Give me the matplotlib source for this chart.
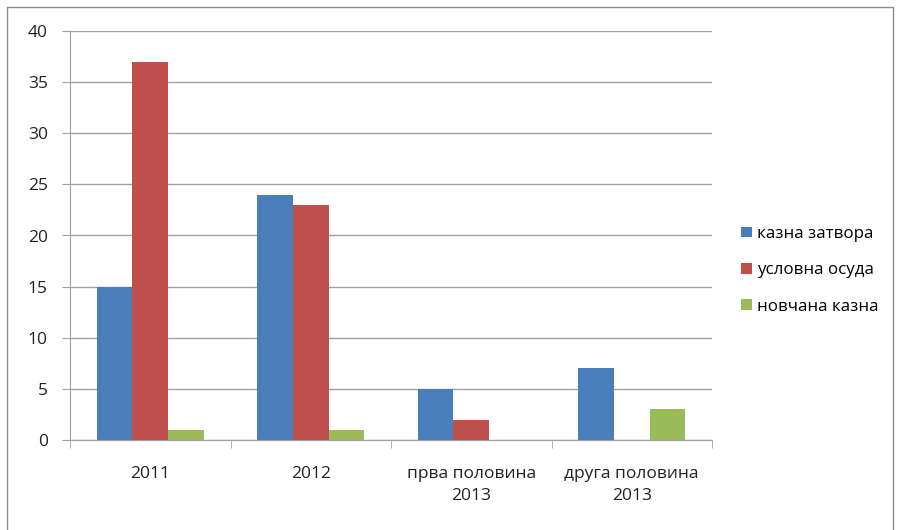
import numpy as np
import matplotlib.pyplot as plt
from matplotlib.patches import Rectangle

# Категорије и вредности по серијама
categories = ['2011', '2012', 'прва половина\n2013', 'друга половина\n2013']
series_names = ['казна затвора', 'условна осуда', 'новчана казна']
kazna_zatvora = [15, 24, 5, 7]
uslovna_osuda = [37, 23, 2, 0]
novcana_kazna = [1, 1, 0, 3]
colors = ['#4a7ebb', '#c0504d', '#9bbb59']

plt.rcParams['font.family'] = ['Open Sans', 'DejaVu Sans']

fig = plt.figure(figsize=(8.98, 5.30), dpi=100)
ax = fig.add_axes([70 / 898, 1 - 440 / 530, 642 / 898, 409 / 530])

x = np.arange(len(categories))
w = 0.222
for i, (vals, name) in enumerate(zip([kazna_zatvora, uslovna_osuda, novcana_kazna], series_names)):
    ax.bar(x + (i - 1) * w, vals, width=w, color=colors[i], label=name, zorder=3)

ax.set_xlim(-0.5, len(categories) - 0.5)
ax.set_ylim(0, 40)
ax.set_yticks(np.arange(0, 41, 5))
ax.grid(axis='y', color='#a0a0a0', linewidth=1, zorder=0)

ax.set_xticks(x)
ax.set_xticklabels(categories, fontsize=12.5, color='#222222', linespacing=1.5)
ax.set_xticks(np.arange(-0.5, len(categories)), minor=True)
ax.tick_params(axis='x', which='major', length=0, pad=19)
ax.tick_params(axis='x', which='minor', length=6, color='#a0a0a0', direction='out')
ax.tick_params(axis='y', length=6, color='#a0a0a0', labelsize=12.5, labelcolor='#222222', pad=10)

for side in ['top', 'right']:
    ax.spines[side].set_visible(False)
for side in ['left', 'bottom']:
    ax.spines[side].set_color('#a0a0a0')

ax.legend(loc='center left', bbox_to_anchor=(1.022, 0.415), frameon=False, fontsize=12.2,
          handlelength=0.6, handleheight=0.6, handletextpad=0.3, labelspacing=1.2)

# оквир око целе слике
fig.patches.append(Rectangle((7 / 898, -0.01), 886 / 898, 1 - 7 / 530 + 0.01,
                             transform=fig.transFigure, fill=False,
                             edgecolor='#8c8c8c', linewidth=1))

fig.savefig('out.png', dpi=100)
